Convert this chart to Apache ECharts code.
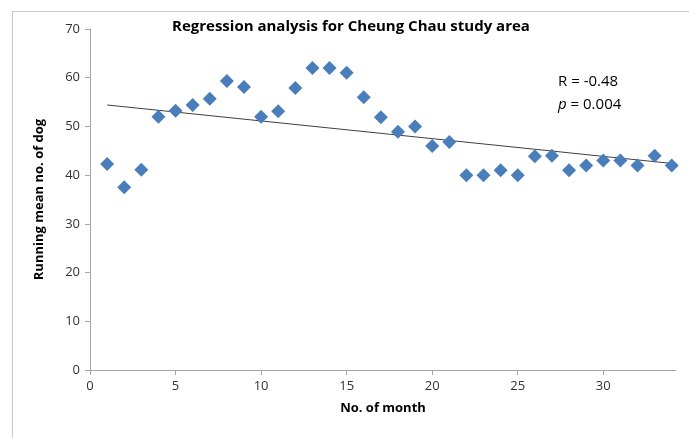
<!DOCTYPE html>
<html>
<head>
<meta charset="utf-8">
<script src="https://cdn.jsdelivr.net/npm/echarts@6/dist/echarts.min.js"></script>
<style>
  html, body { margin: 0; padding: 0; background: #fff; }
  #main { width: 689px; height: 438px; }
</style>
</head>
<body>
<div id="main"></div>
<script>
// months and running mean values
const months = [1, 2, 3, 4, 5, 6, 7, 8, 9, 10, 11, 12, 13, 14, 15, 16, 17,
  18, 19, 20, 21, 22, 23, 24, 25, 26, 27, 28, 29, 30, 31, 32, 33, 34]
const meanDogs = [42.3, 37.5, 41.1, 52, 53.2, 54.4, 55.7, 59.3, 58.1, 52, 53.1, 57.9, 62, 62, 61, 56, 51.9,
  48.9, 50, 46, 46.8, 40, 40, 41, 40, 43.9, 44, 41, 42, 43, 43, 42, 44, 42]
// regression line end points (linear trend)
const trendX = [1, 34]
const trendY = [54.4, 42.4]
const xTicks = [0, 5, 10, 15, 20, 25, 30]
const yTicks = [0, 10, 20, 30, 40, 50, 60, 70]

const font = 'Open Sans'
const axisGrey = '#a6a6a6'

const myChart = echarts.init(document.getElementById('main'))

const option = {
  animation: false,
  backgroundColor: '#fff',
  textStyle: { fontFamily: font },
  grid: { left: 90, right: 13, top: 29, bottom: 68 },
  xAxis: {
    type: 'value',
    min: 0,
    max: 34.25,
    interval: 5,
    name: 'No. of month',
    nameLocation: 'middle',
    nameGap: 32,
    nameTextStyle: { fontSize: 13, fontWeight: 'bold', color: '#000', fontFamily: font },
    axisLine: { lineStyle: { color: axisGrey } },
    axisTick: { show: true, length: 5, lineStyle: { color: axisGrey } },
    axisLabel: {
      color: '#333', fontSize: 13, margin: 10, showMaxLabel: false,
      formatter: v => xTicks.includes(v) ? String(v) : ''
    },
    splitLine: { show: false }
  },
  yAxis: {
    type: 'value',
    min: 0,
    max: 70,
    interval: 10,
    name: 'Running mean no. of dog',
    nameLocation: 'middle',
    nameGap: 44,
    nameTextStyle: { fontSize: 13, fontWeight: 'bold', color: '#000', fontFamily: font },
    axisLine: { show: true, lineStyle: { color: axisGrey } },
    axisTick: { show: true, length: 5, lineStyle: { color: axisGrey } },
    axisLabel: {
      color: '#333', fontSize: 13, margin: 10,
      formatter: v => yTicks.includes(v) ? String(v) : ''
    },
    splitLine: { show: false }
  },
  series: [
    {
      type: 'scatter',
      symbol: 'diamond',
      symbolSize: [14, 14],
      itemStyle: { color: '#4a7ebb', opacity: 1 },
      data: months.map((m, i) => [m, meanDogs[i]]),
      z: 3
    },
    {
      type: 'line',
      symbol: 'none',
      lineStyle: { color: '#404040', width: 1 },
      data: trendX.map((x, i) => [x, trendY[i]]),
      z: 2
    }
  ],
  graphic: [
    // chart area border (top and left visible)
    { type: 'line', shape: { x1: 12, y1: 11.5, x2: 689, y2: 11.5 }, style: { stroke: '#c8c8c8', lineWidth: 1 } },
    { type: 'line', shape: { x1: 12.5, y1: 11, x2: 12.5, y2: 438 }, style: { stroke: '#c8c8c8', lineWidth: 1 } },
    {
      type: 'text', left: 172, top: 19,
      style: { text: 'Regression analysis for Cheung Chau study area', font: 'bold 15px "Open Sans"', fill: '#000' }
    },
    {
      type: 'text', left: 558, top: 74,
      style: {
        text: '{n|R = -0.48}\n{i|p}{n| = 0.004}',
        rich: {
          n: { fontSize: 15, fontFamily: font, fill: '#000', lineHeight: 23 },
          i: { fontSize: 15, fontFamily: font, fontStyle: 'italic', fill: '#000', lineHeight: 23 }
        }
      }
    }
  ]
}
myChart.setOption(option)
</script>
</body>
</html>
